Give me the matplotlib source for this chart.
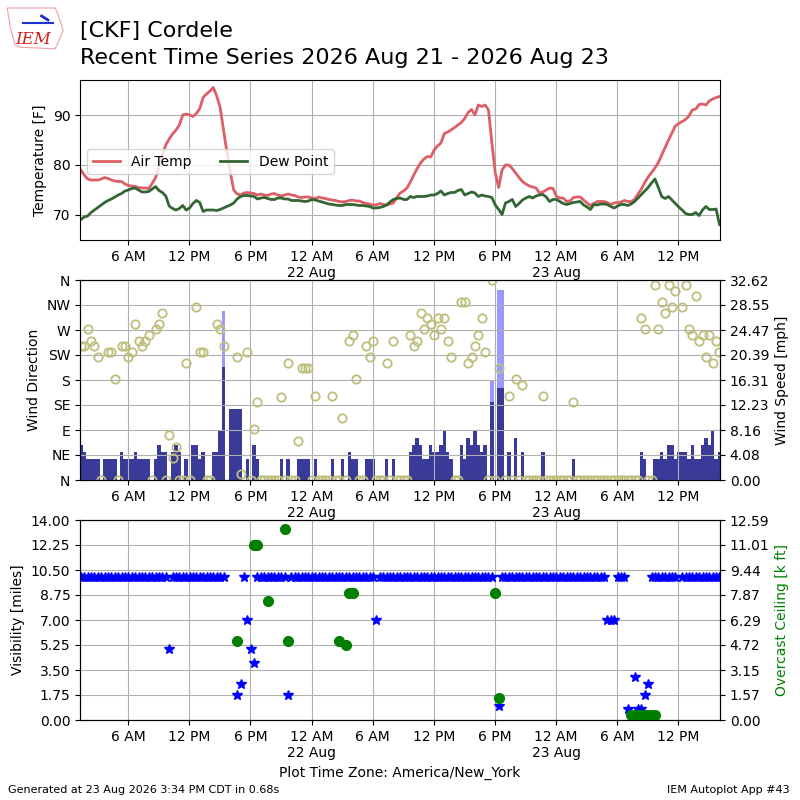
import numpy as np
import pandas as pd
import matplotlib
matplotlib.use("Agg")
import matplotlib.pyplot as plt
from matplotlib.ticker import FixedLocator, FuncFormatter, FormatStrFormatter
import matplotlib.dates as mdates
from matplotlib.patches import Polygon
import datetime as dt

nan = np.nan

# ---------------- data (America/New_York local time, ~20 minute obs) ----------------
obs_start = "2026-08-21 01:22"
obs_step = "20min"

air_temp = [
    79.0, 78.0, 77.2, 77.0, 77.0, 77.0, 77.2, 77.5, 77.3, 77.0,
    76.8, 76.7, 76.7, 76.2, 75.9, 75.8, 75.7, 75.5, 75.4, 75.4,
    75.3, 76.3, 77.5, 79.5, 82.0, 84.0, 85.2, 86.2, 87.0, 88.0,
    90.0, 90.2, 90.0, 89.7, 90.3, 91.3, 93.5, 94.2, 94.8, 95.5,
    93.8, 91.5, 87.0, 82.5, 78.5, 75.0, 74.2, 74.0, 74.4, 74.5,
    74.4, 74.3, 74.0, 74.2, 74.0, 73.9, 74.2, 74.3, 74.0, 73.8,
    74.0, 74.2, 74.0, 73.9, 73.6, 73.5, 73.6, 73.6, 73.4, 73.3,
    73.6, 73.4, 73.3, 73.1, 73.0, 72.9, 72.7, 72.6, 72.7, 72.9,
    73.0, 72.8, 72.8, 72.5, 72.3, 72.2, 72.0, 72.0, 72.3, 72.1,
    72.0, 72.2, 72.4, 73.5, 74.4, 74.8, 75.4, 76.6, 78.0, 79.3,
    80.4, 81.2, 81.7, 81.6, 83.0, 83.8, 84.4, 86.3, 86.6, 87.0,
    87.5, 88.0, 88.5, 89.3, 90.5, 91.1, 90.0, 92.0, 91.7, 92.0,
    91.0, 84.4, 78.4, 75.5, 79.0, 80.0, 80.0, 79.3, 78.4, 77.5,
    76.7, 76.2, 75.8, 75.6, 75.4, 74.4, 74.6, 75.0, 75.4, 75.3,
    73.7, 73.4, 73.4, 72.7, 72.8, 73.5, 73.6, 73.6, 73.0, 72.4,
    71.9, 72.3, 72.7, 72.7, 72.7, 72.5, 72.1, 72.4, 72.5, 72.6,
    72.9, 72.7, 72.7, 73.1, 74.2, 75.2, 76.5, 77.6, 78.5, 79.4,
    80.5, 82.0, 83.5, 85.0, 86.4, 87.8, 88.3, 88.7, 89.1, 89.8,
    91.0, 91.2, 92.1, 92.2, 92.0, 92.8, 93.2, 93.5, 93.7,
]

dew_point = [
    69.1, 69.6, 69.8, 70.5, 71.0, 71.5, 72.0, 72.5, 72.9, 73.2,
    73.6, 74.0, 74.3, 74.8, 75.0, 75.3, 75.4, 75.0, 74.6, 74.6,
    74.7, 75.2, 75.7, 74.9, 74.5, 73.8, 71.8, 71.3, 71.0, 71.3,
    71.9, 71.0, 71.4, 72.3, 72.9, 72.5, 70.7, 71.0, 71.0, 71.0,
    70.9, 71.1, 71.4, 71.7, 72.0, 72.4, 73.2, 73.7, 73.9, 73.9,
    73.8, 73.7, 73.2, 73.4, 73.5, 73.3, 73.1, 73.1, 73.4, 73.4,
    73.2, 73.2, 72.9, 72.9, 72.9, 72.8, 72.7, 72.8, 73.1, 73.0,
    72.8, 72.6, 72.4, 72.2, 72.1, 72.0, 71.9, 71.9, 72.1, 72.1,
    72.1, 72.0, 71.9, 71.9, 71.8, 71.7, 71.4, 71.4, 71.5, 71.7,
    72.0, 72.6, 73.1, 73.3, 73.4, 73.1, 73.1, 73.7, 73.5, 73.7,
    73.7, 73.7, 73.8, 74.0, 74.0, 74.3, 74.8, 74.0, 74.3, 74.5,
    74.5, 74.9, 75.1, 74.0, 74.3, 74.6, 74.4, 73.7, 74.0, 73.8,
    73.7, 73.5, 72.0, 71.1, 70.1, 72.4, 72.7, 73.1, 71.7, 72.3,
    73.0, 73.4, 73.7, 73.4, 73.8, 74.0, 74.1, 73.6, 72.7, 73.1,
    73.1, 72.7, 72.3, 72.1, 72.3, 72.5, 72.6, 72.7, 72.0, 71.6,
    71.1, 72.1, 72.0, 72.2, 72.2, 72.1, 71.7, 71.4, 71.8, 72.1,
    72.1, 71.9, 72.2, 72.7, 73.4, 74.1, 74.8, 75.5, 76.4, 77.2,
    75.5, 73.7, 73.3, 73.7, 73.0, 72.3, 71.6, 71.0, 70.3, 70.1,
    70.1, 70.5, 69.9, 71.0, 71.7, 71.1, 71.1, 71.2, 68.1,
]

wind_speed_kt = [
    5, 4, 3, 3, 3, 3, 0, 3, 3, 3,
    3, 0, 4, 3, 3, 3, 4, 3, 3, 3,
    3, 0, 3, 5, 4, 4, 0, 4, 5, 4,
    0, 3, 0, 5, 5, 3, 4, 0, 0, 4,
    4, 7, 16, 0, 10, 10, 10, 10, 0, 3,
    0, 5, 3, 0, 0, 0, 0, 0, 0, 3,
    0, 3, 0, 0, 3, 3, 3, 3, 0, 3,
    0, 0, 0, 0, 3, 0, 0, 3, 0, 4,
    3, 3, 0, 0, 3, 3, 3, 0, 0, 0,
    3, 0, 3, 0, 0, 0, 0, 4, 5, 6,
    5, 3, 3, 5, 4, 4, 5, 7, 4, 3,
    0, 0, 5, 3, 6, 5, 7, 5, 4, 5,
    0, 11, 0, 13, 13, 0, 4, 0, 6, 0,
    4, 0, 0, 0, 0, 0, 4, 0, 0, 0,
    0, 0, 0, 0, 0, 3, 0, 0, 0, 0,
    0, 0, 0, 0, 0, 0, 0, 0, 0, 0,
    0, 0, 0, 0, 0, 4, 3, 0, 0, 3,
    3, 4, 3, 5, 5, 3, 4, 4, 4, 3,
    5, 3, 3, 5, 6, 5, 7, 3, 4,
]

# gusts reported only at these observation numbers (knots)
wind_gust_obs = {42: 24, 121: 14, 123: 27, 124: 27}

wind_dir = [
    241, 241, 271, 251, 241, 221, 0, nan, 231, 231,
    181, 0, 241, 241, 221, 231, 280, 251, 241, 251,
    261, 0, 271, 280, 301, 0, 81, 40, 60, 0,
    0, 211, 0, nan, 311, 231, 231, 0, 0, nan,
    280, 271, 241, nan, nan, nan, 221, 11, nan, 231,
    0, 91, 141, 0, 0, 0, 0, 0, 0, 150,
    0, 210, 0, 0, 71, 201, 201, 201, 0, 151,
    0, 0, 0, 0, 151, 0, 0, 111, 0, 251,
    261, 181, 0, 0, 241, 221, 251, 0, 0, 0,
    211, 0, 251, 0, 0, 0, 0, 261, 241, 251,
    301, 271, 291, 281, 261, 291, 271, 291, 251, 221,
    0, 0, 321, 321, 211, 221, 241, 261, 291, 231,
    0, 360, 0, 201, nan, 0, 151, 0, 181, 0,
    171, 0, 0, 0, 0, 0, 151, 0, 0, 0,
    0, 0, 0, 0, 0, 141, 0, 0, 0, 0,
    0, 0, 0, 0, 0, 0, 0, 0, 0, 0,
    0, 0, 0, 0, 0, 291, 271, 0, 0, 351,
    271, 321, 301, 351, 311, 341, nan, 311, 351, 271,
    261, 331, 251, 261, 221, 261, 211, 251, 231,
]

# visibility is 10 miles except at these observation numbers
vis_usual = 10.0
vis_obs = {26: 5.0, 43: nan, 44: nan, 45: nan, 46: 1.75, 47: 2.5, 49: 7.0,
           50: 5.0, 51: 4.0, 61: 1.75, 87: 7.0, 122: nan, 123: 1.0,
           155: 7.0, 156: 7.0, 157: 7.0, 161: 0.75, 162: nan, 163: 3.0,
           164: 0.75, 165: 0.75, 166: 1.75, 167: 2.5, 176: nan}

# overcast ceiling (thousands of feet) where reported
ceiling_obs = {46: 5.0, 51: 11.0, 52: 11.0, 55: 7.5, 60: 12.0, 61: 5.0,
               76: 5.0, 78: 4.7, 79: 8.0, 80: 8.0, 122: 8.0, 123: 1.4,
               162: 0.3, 163: 0.3, 164: 0.3, 165: 0.3, 166: 0.3,
               167: 0.3, 168: 0.3, 169: 0.3}

dir_labels = ["N", "NE", "E", "SE", "S", "SW", "W", "NW", "N"]

# axis tops used by the original product
speed_axis_max = 32.6246
ceiling_axis_max = 12.587

# ---------------- build ----------------
n = len(air_temp)
times = pd.date_range(obs_start, periods=n, freq=obs_step).to_pydatetime()
KT2MPH = 1.15078
speed_mph = np.array(wind_speed_kt, float) * KT2MPH
gust_mph = np.full(n, nan)
for k, v in wind_gust_obs.items():
    gust_mph[k] = v * KT2MPH
vis = np.full(n, vis_usual)
for k, v in vis_obs.items():
    vis[k] = v
ceil = np.full(n, nan)
for k, v in ceiling_obs.items():
    ceil[k] = v

xmin = dt.datetime(2026, 8, 21, 1, 17)
xmax = dt.datetime(2026, 8, 23, 16, 5)
xticks = [dt.datetime(2026, 8, 21, 6) + dt.timedelta(hours=6 * j) for j in range(10)]


def fmt_time(val, pos=None):
    d = mdates.num2date(val)
    h = d.hour
    if h == 0:
        return "12 AM\n%d Aug" % d.day
    if h == 12:
        return "12 PM"
    if h < 12:
        return "%d AM" % h
    return "%d PM" % (h - 12)


def set_xaxis(ax):
    ax.set_xlim(xmin, xmax)
    ax.xaxis.set_major_locator(FixedLocator(mdates.date2num(xticks)))
    ax.xaxis.set_major_formatter(FuncFormatter(fmt_time))


fig = plt.figure(figsize=(8, 8), dpi=100)

# logo-ish decoration
logo = Polygon([(0.009, 0.990), (0.069, 0.990), (0.072, 0.983), (0.079, 0.962),
                (0.073, 0.948), (0.069, 0.939), (0.025, 0.941), (0.019, 0.944),
                (0.013, 0.965)], closed=True, fill=False, edgecolor="#f0a0a0",
               lw=0.8, transform=fig.transFigure)
fig.patches.append(logo)
fig.text(0.019, 1 - 44.5 / 800, "IEM", color="#d02020", fontsize=12,
         family="serif", style="italic", va="baseline")
fig.lines.append(plt.Line2D([0.029, 0.066], [0.971, 0.971], color="#2030d0",
                            lw=1.5, transform=fig.transFigure))
fig.lines.append(plt.Line2D([0.052, 0.060], [0.980, 0.975], color="#2030d0",
                            lw=2.0, transform=fig.transFigure))

fig.text(0.1, 1 - 36.7 / 800, "[CKF] Cordele", fontsize=16, va="baseline")
fig.text(0.1, 1 - 64 / 800, "Recent Time Series 2026 Aug 21 - 2026 Aug 23",
         fontsize=16, va="baseline")

# ---- temperature panel
ax1 = fig.add_axes([0.1, 0.7, 0.8, 0.2])
ax1.plot(times, air_temp, color="#dd5f66", lw=2, label="Air Temp")
ax1.plot(times, dew_point, color="#336633", lw=2, label="Dew Point")
ax1.set_ylim(65, 97)
ax1.set_yticks([70, 80, 90])
ax1.set_ylabel("Temperature [F]")
ax1.grid(True)
ax1.legend(loc="center left", bbox_to_anchor=(0.0, 0.49), ncol=2)
set_xaxis(ax1)

# ---- wind panel
ax2 = fig.add_axes([0.1, 0.4, 0.8, 0.25])
ax2s = ax2.twinx()
width = 20.0 / 1440.0
ax2s.bar(times, gust_mph, width=width, color="#9999ff", align="center")
ax2s.bar(times, speed_mph, width=width, color="#3a3a99", align="center")
ax2s.set_ylim(0, speed_axis_max)
ax2s.set_yticks(np.linspace(0, speed_axis_max, 9))
ax2s.yaxis.set_major_formatter(FormatStrFormatter("%.2f"))
ax2s.set_ylabel("Wind Speed [mph]")
ax2.plot(times, wind_dir, "o", ms=6, mfc="none", mec="#bebe7d", mew=1.3,
         linestyle="none")
ax2.set_ylim(0, 360)
ax2.set_yticks(np.arange(0, 361, 45))
ax2.set_yticklabels(dir_labels)
ax2.set_ylabel("Wind Direction")
ax2.grid(True)
ax2.set_zorder(ax2s.get_zorder() + 1)
ax2.patch.set_visible(False)
set_xaxis(ax2)
set_xaxis(ax2s)

# ---- visibility / ceiling panel
ax3 = fig.add_axes([0.1, 0.1, 0.8, 0.25])
ax3.plot(times, vis, "*", color="b", ms=7, linestyle="none")
ax3.set_ylim(0, 14)
ax3.set_yticks(np.arange(0, 14.01, 1.75))
ax3.yaxis.set_major_formatter(FormatStrFormatter("%.2f"))
ax3.set_ylabel("Visibility [miles]")
ax3.grid(True)
ax3c = ax3.twinx()
ax3c.plot(times, ceil, "o", color="g", ms=7, linestyle="none")
ax3c.set_ylim(0, ceiling_axis_max)
ax3c.set_yticks(np.linspace(0, ceiling_axis_max, 9))
ax3c.yaxis.set_major_formatter(FormatStrFormatter("%.2f"))
ax3c.set_ylabel("Overcast Ceiling [k ft]", color="g")
ax3.set_xlabel("Plot Time Zone: America/New_York")
set_xaxis(ax3)
set_xaxis(ax3c)

fig.text(0.01, 1 - 793 / 800, "Generated at 23 Aug 2026 3:34 PM CDT in 0.68s",
         fontsize=8, va="baseline")
fig.text(0.9875, 1 - 793 / 800, "IEM Autoplot App #43", fontsize=8,
         va="baseline", ha="right")

fig.savefig("out.png", dpi=100)
